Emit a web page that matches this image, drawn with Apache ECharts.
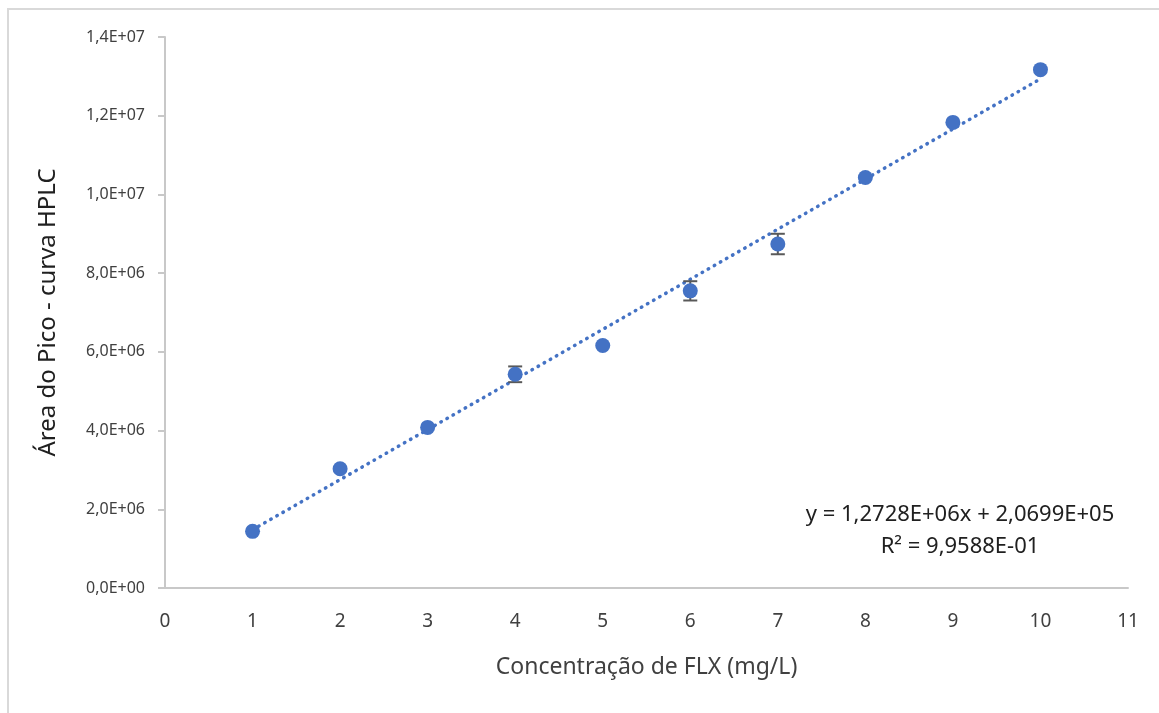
<!DOCTYPE html>
<html lang="pt">
<head>
    <meta charset="UTF-8">
    <title>Curva HPLC - FLX</title>
    <script src="https://cdn.jsdelivr.net/npm/echarts@6/dist/echarts.min.js"></script>
    <style>
        html, body { margin: 0; padding: 0; background: #fff; }
        #frame {
            position: absolute;
            left: 7px; top: 8px;
            width: 1152px; height: 705px;
            border-left: 2px solid #d9d9d9;
            border-top: 2px solid #d9d9d9;
        }
        #chart {
            position: absolute;
            left: 0; top: 0;
            width: 1159px; height: 713px;
        }
    </style>
</head>
<body>
    <div id="frame"></div>
    <div id="chart"></div>
    <script>
        // dados
        var concentracao = [1, 2, 3, 4, 5, 6, 7, 8, 9, 10];
        var area = [1.44e6, 3.03e6, 4.08e6, 5.43e6, 6.16e6, 7.55e6, 8.74e6, 10.43e6, 11.83e6, 13.17e6];
        var desvio = [0, 0, 0, 0.2e6, 0, 0.245e6, 0.26e6, 0, 0, 0];
        var inclinacao = 1.2728e6;
        var intercepto = 2.0699e5;
        var equacao = ['y = 1,2728E+06x + 2,0699E+05', 'R² = 9,9588E-01'];

        var fonte = '"Noto Sans", "Open Sans", sans-serif';

        function formatExp(v) {
            if (v === 0) return '0,0E+00';
            var e = Math.floor(Math.log10(Math.abs(v)) + 1e-9);
            var m = (v / Math.pow(10, e)).toFixed(1).replace('.', ',');
            return m + 'E+' + (e < 10 ? '0' + e : e);
        }

        var pontos = concentracao.map((x, i) => [x, area[i]]);
        var barras = concentracao.map((x, i) => [x, area[i] - desvio[i], area[i] + desvio[i]])
            .filter((d, i) => desvio[i] > 0);
        var xIni = concentracao[0], xFim = concentracao[concentracao.length - 1];
        var tendencia = [[xIni, inclinacao * xIni + intercepto], [xFim, inclinacao * xFim + intercepto]];

        var myChart = echarts.init(document.getElementById('chart'));

        var option = {
            animation: false,
            textStyle: { fontFamily: fonte },
            grid: { left: 165, right: 31, top: 37, bottom: 125 },
            xAxis: {
                type: 'value',
                min: 0, max: 11, interval: 1,
                name: 'Concentração de FLX (mg/L)',
                nameLocation: 'middle',
                nameGap: 68,
                nameTextStyle: { fontSize: 23, color: '#404040', fontFamily: fonte },
                axisLine: { lineStyle: { color: '#c8c8c8', width: 2 } },
                axisTick: { show: false },
                axisLabel: { fontSize: 19, color: '#404040', margin: 24 },
                splitLine: { show: false }
            },
            yAxis: {
                type: 'value',
                min: 0, max: 1.4e7, interval: 2e6,
                name: 'Área do Pico - curva HPLC',
                nameLocation: 'middle',
                nameGap: 105,
                nameTextStyle: { fontSize: 24, color: '#202020', fontFamily: fonte },
                axisLine: { show: true, lineStyle: { color: '#c8c8c8', width: 2 } },
                axisTick: { show: true, length: 7, lineStyle: { color: '#c8c8c8', width: 2 } },
                axisLabel: { fontSize: 16, color: '#404040', margin: 20, formatter: formatExp },
                splitLine: { show: false }
            },
            series: [
                {
                    type: 'line',
                    data: tendencia,
                    symbol: 'none',
                    lineStyle: { color: '#4472C4', width: 3.5, type: [0.5, 6.5], cap: 'round' },
                    z: 2
                },
                {
                    type: 'custom',
                    data: barras,
                    renderItem: function (params, api) {
                        var lo = api.coord([api.value(0), api.value(1)]);
                        var hi = api.coord([api.value(0), api.value(2)]);
                        var w = 7;
                        var st = { stroke: '#595959', lineWidth: 2 };
                        return {
                            type: 'group',
                            children: [
                                { type: 'line', shape: { x1: lo[0], y1: lo[1], x2: hi[0], y2: hi[1] }, style: st },
                                { type: 'line', shape: { x1: lo[0] - w, y1: lo[1], x2: lo[0] + w, y2: lo[1] }, style: st },
                                { type: 'line', shape: { x1: hi[0] - w, y1: hi[1], x2: hi[0] + w, y2: hi[1] }, style: st }
                            ]
                        };
                    },
                    z: 3
                },
                {
                    type: 'scatter',
                    data: pontos,
                    symbol: 'circle',
                    symbolSize: 15,
                    itemStyle: { color: '#4472C4', opacity: 1 },
                    z: 4
                }
            ],
            graphic: [
                {
                    type: 'text',
                    x: 960, y: 515,
                    style: {
                        text: equacao[0],
                        textAlign: 'center',
                        textVerticalAlign: 'middle',
                        font: '22px ' + fonte,
                        fill: '#202020'
                    }
                },
                {
                    type: 'text',
                    x: 960, y: 547,
                    style: {
                        text: equacao[1],
                        textAlign: 'center',
                        textVerticalAlign: 'middle',
                        font: '22px ' + fonte,
                        fill: '#202020'
                    }
                }
            ]
        };

        myChart.setOption(option);
    </script>
</body>
</html>
